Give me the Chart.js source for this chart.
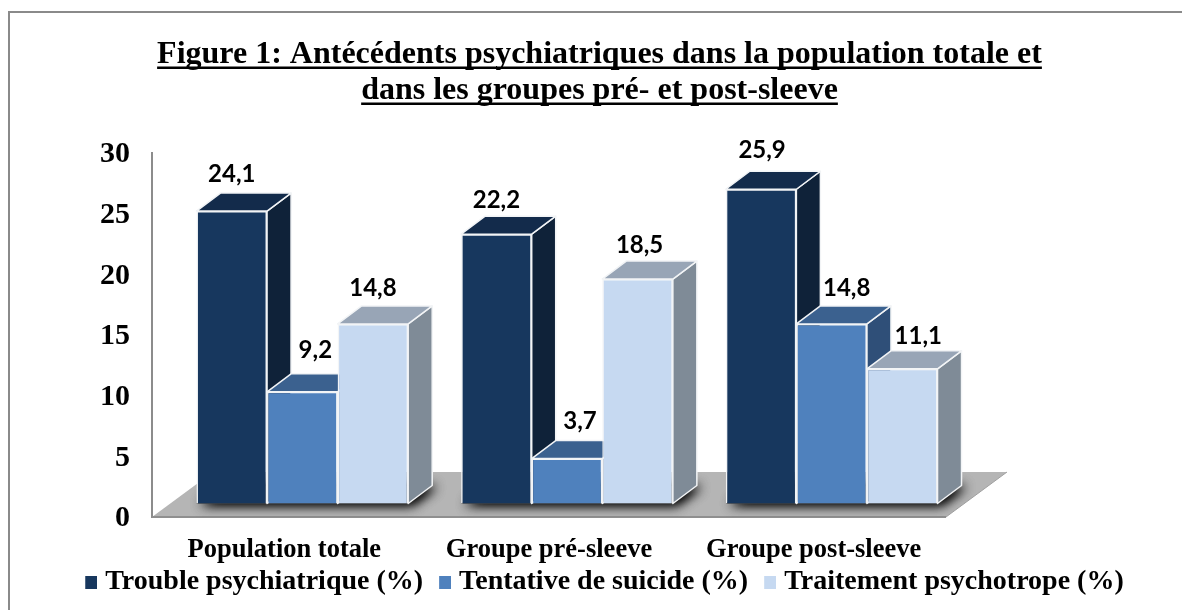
<!DOCTYPE html>
<html>
<head>
<meta charset="utf-8">
<style>
  body { margin: 0; background: #fff; }
</style>
<script src="https://cdn.jsdelivr.net/npm/chart.js@4/dist/chart.umd.js"></script>
</head>
<body>
<canvas id="myChart" width="1182" height="610"></canvas>
<script>
const categories = ['Population totale', 'Groupe pré-sleeve', 'Groupe post-sleeve']
const seriesNames = ['Trouble psychiatrique (%)', 'Tentative de suicide (%)', 'Traitement psychotrope (%)']
const troublePsy = [24.1, 22.2, 25.9]
const tentative = [9.2, 3.7, 14.8]
const traitement = [14.8, 18.5, 11.1]
const titleLines = ['Figure 1: Antécédents psychiatriques dans la population totale et', 'dans les groupes pré- et post-sleeve']

const serif = '"Liberation Serif", "Times New Roman", serif'
const frontColors = ['#17375e', '#4f81bd', '#c6d9f1']
const topColors = ['#132b4b', '#3b618f', '#98a5b6']
const sideColors = ['#0f2239', '#2f4f78', '#7f8b97']
const edgeColor = '#f2f4f6'

// the front of the bars sits on the floor, a bit away from the axis corner
const shiftX = 18
const shiftY = -13.5
const depthX = 24
const depthY = -18
const floorX = 61
const floorY = -45

// small label moves where the reference avoids the taller neighbour
const labelNudgeX = [[0, 0, 1], [13, 13, 15], [0, 2, 16]]
const labelNudgeY = [[1, 4, -1], [-4, 1, 2], [2, 4, 5]]

function poly(ctx, pts, fill, stroke) {
    ctx.beginPath()
    pts.forEach((p, i) => i ? ctx.lineTo(p[0], p[1]) : ctx.moveTo(p[0], p[1]))
    ctx.closePath()
    ctx.fillStyle = fill
    ctx.fill()
    if (stroke) {
        ctx.strokeStyle = stroke
        ctx.lineWidth = 1.5
        ctx.lineJoin = 'round'
        ctx.stroke()
    }
}

// legend swatch: the square sits right of centre, so it ends up closer to its text
function legendSwatch(color) {
    const c = document.createElement('canvas')
    c.width = 24
    c.height = 13
    const g = c.getContext('2d')
    g.fillStyle = color
    g.fillRect(12, 0, 12, 13)
    return c
}

const bars3d = {
    id: 'bars3d',
    afterLayout(chart) {
        // legend centre is right of the title, tick labels may run into its box
        chart.legend.left += 2
        chart.legend.right += 2
        chart.scales.x.bottom = chart.legend.top + 20
    },
    beforeDraw(chart) {
        const ctx = chart.ctx
        ctx.save()
        ctx.strokeStyle = '#8a8a8a'
        ctx.lineWidth = 2
        // right and bottom of the frame are outside the picture
        ctx.strokeRect(9, 12, chart.width, chart.height)
        ctx.restore()
    },
    beforeDatasetsDraw(chart) {
        const ctx = chart.ctx
        const a = chart.chartArea
        const metas = chart.data.datasets.map((d, i) => chart.getDatasetMeta(i))

        // floor
        const floor = [[a.left, a.bottom], [a.right, a.bottom], [a.right + floorX, a.bottom + floorY], [a.left + floorX, a.bottom + floorY]]
        ctx.save()
        poly(ctx, floor, '#b5b5b5')
        ctx.strokeStyle = '#8f8f8f'
        ctx.lineWidth = 2
        ctx.beginPath()
        ctx.moveTo(a.left, a.bottom)
        ctx.lineTo(a.right, a.bottom)
        ctx.stroke()
        ctx.lineWidth = 1
        ctx.strokeStyle = '#a0a0a0'
        ctx.beginPath()
        ctx.moveTo(a.right, a.bottom)
        ctx.lineTo(a.right + floorX, a.bottom + floorY)
        ctx.stroke()

        // soft shadow of each group on the floor, drawn twice to get it dark enough
        ctx.beginPath()
        floor.forEach((p, i) => i ? ctx.lineTo(p[0], p[1]) : ctx.moveTo(p[0], p[1]))
        ctx.closePath()
        ctx.clip()
        ctx.shadowColor = 'rgba(0,0,0,0.9)'
        ctx.shadowBlur = 12
        ctx.shadowOffsetX = 4
        ctx.shadowOffsetY = 1
        for (let pass = 0; pass < 2; pass++) {
            categories.forEach((c, i) => {
                const first = metas[0].data[i]
                const last = metas[metas.length - 1].data[i]
                const x0 = first.x - first.width / 2 + shiftX
                const x1 = last.x + last.width / 2 + shiftX
                const y = a.bottom + shiftY
                poly(ctx, [[x0, y], [x1, y], [x1 + depthX, y + depthY], [x0 + depthX, y + depthY]], '#555')
            })
        }
        ctx.restore()

        // bars, left to right, so each front covers the side of the one before
        ctx.save()
        ctx.translate(shiftX, shiftY)
        categories.forEach((c, i) => {
            metas.forEach((meta, s) => {
                const bar = meta.data[i]
                const x0 = bar.x - bar.width / 2
                const x1 = bar.x + bar.width / 2
                const yt = bar.y
                const yb = bar.base
                poly(ctx, [[x1, yt], [x1 + depthX, yt + depthY], [x1 + depthX, yb + depthY], [x1, yb]], sideColors[s], edgeColor)
                poly(ctx, [[x0, yt], [x0 + depthX, yt + depthY], [x1 + depthX, yt + depthY], [x1, yt]], topColors[s], edgeColor)
                bar.draw(ctx)
            })
        })
        ctx.restore()
    },
    beforeDatasetDraw() {
        return false
    },
    afterDraw(chart) {
        const ctx = chart.ctx
        ctx.save()

        // value labels
        ctx.font = 'bold 24px Lato'
        ctx.fillStyle = '#000'
        ctx.textAlign = 'center'
        ctx.textBaseline = 'middle'
        chart.data.datasets.forEach((ds, s) => {
            chart.getDatasetMeta(s).data.forEach((bar, i) => {
                const text = String(ds.data[i]).replace('.', ',')
                ctx.fillText(text, bar.x + shiftX + labelNudgeX[s][i], bar.y + shiftY - 38 + labelNudgeY[s][i])
            })
        })

        // the title plugin has no underline
        const t = chart.titleBlock
        const font = t.options.font
        ctx.font = 'bold ' + font.size + 'px ' + serif
        const lineH = font.size * font.lineHeight
        const mid = (t.left + t.right) / 2
        titleLines.forEach((line, i) => {
            const w = ctx.measureText(line).width
            const y = t.top + t.options.padding.top + lineH * i + lineH - 6
            ctx.fillRect(mid - w / 2, y, w, 2.5)
        })
        ctx.restore()
    }
}

const ctx = document.getElementById('myChart')

let myChart = new Chart(ctx, {
    type: 'bar',
    data: {
        labels: categories,
        datasets: [
            { label: seriesNames[0], data: troublePsy, backgroundColor: frontColors[0], pointStyle: legendSwatch(frontColors[0]) },
            { label: seriesNames[1], data: tentative, backgroundColor: frontColors[1], pointStyle: legendSwatch(frontColors[1]) },
            { label: seriesNames[2], data: traitement, backgroundColor: frontColors[2], pointStyle: legendSwatch(frontColors[2]) }
        ]
    },
    plugins: [bars3d],
    options: {
        responsive: false,
        animation: false,
        layout: { padding: { left: 17, bottom: 4 } },
        datasets: {
            bar: {
                categoryPercentage: 0.8,
                barPercentage: 1,
                borderColor: edgeColor,
                borderWidth: 1.5
            }
        },
        plugins: {
            tooltip: { enabled: false },
            title: {
                display: true,
                text: titleLines,
                color: '#000',
                font: { family: serif, size: 32, weight: 'bold', lineHeight: 1.125 },
                padding: { top: 36.5, bottom: 44.5 }
            },
            legend: {
                position: 'bottom',
                labels: {
                    color: '#000',
                    font: { family: serif, size: 28, weight: 'bold' },
                    usePointStyle: true,
                    boxWidth: 12,
                    boxHeight: 12,
                    padding: 10
                }
            }
        },
        scales: {
            x: {
                grid: { display: false },
                border: { display: false },
                ticks: {
                    color: '#000',
                    font: { family: serif, size: 26.5, weight: 'bold' },
                    padding: 9,
                    maxRotation: 0,
                    autoSkip: false
                },
                afterFit(scale) { scale.height = 41 }
            },
            y: {
                min: 0,
                max: 30,
                grid: { display: false, drawTicks: false },
                border: { color: '#8c8c8c', width: 2 },
                ticks: {
                    stepSize: 5,
                    color: '#000',
                    font: { family: serif, size: 30, weight: 'bold' },
                    padding: 22,
                    labelOffset: 1.5
                },
                afterFit(scale) { scale.width = 135 }
            },
            // empty axis, only keeps the plot clear of the right side
            rightGap: {
                position: 'right',
                grid: { display: false },
                border: { display: false },
                ticks: { display: false },
                afterFit(scale) { scale.width = 236 }
            }
        }
    }
})
</script>
</body>
</html>
